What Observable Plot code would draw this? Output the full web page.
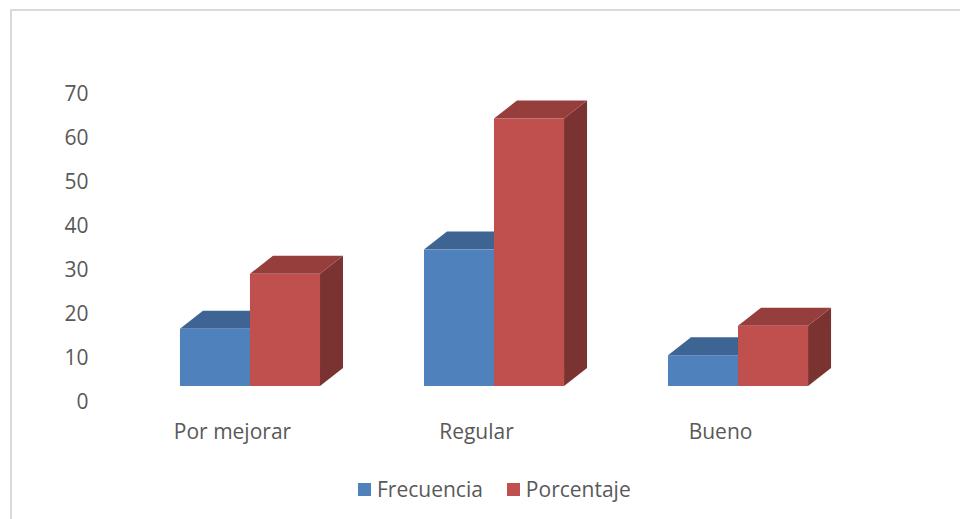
<!DOCTYPE html>
<html>
<head>
<meta charset="utf-8">
<script src="https://cdn.jsdelivr.net/npm/d3@7"></script>
<script src="https://cdn.jsdelivr.net/npm/@observablehq/plot@0.6"></script>
<style>
  body { margin: 0; background: #fff; }
  #wrap { position: relative; width: 960px; height: 519px; overflow: hidden; background: #fff; font-family: "Open Sans", Lato, sans-serif; }
  #frame { position: absolute; left: 10px; top: 9px; width: 960px; height: 520px; border-top: 2px solid #d9d9d9; border-left: 2px solid #d9d9d9; }
  #chart { position: absolute; left: 0; top: 0; }
  #legend { position: absolute; left: 358px; top: 475px; display: flex; align-items: center; font-size: 21px; color: #595959; }
  .item { display: flex; align-items: center; margin-right: 24px; }
  .sw { width: 13px; height: 13px; margin-right: 6px; }
</style>
</head>
<body>
<div id="wrap">
  <div id="frame"></div>
  <div id="chart"></div>
  <div id="legend"></div>
</div>
<script>
const categorias = ["Por mejorar", "Regular", "Bueno"];
const series = ["Frecuencia", "Porcentaje"];
const frecuencia = [13, 31, 7];
const porcentaje = [25.5, 60.8, 13.7];
const yTicks = [0, 10, 20, 30, 40, 50, 60, 70];
const colores = ["#4f81bd", "#c0504d"];

const filas = [];
categorias.forEach((c, i) => {
  filas.push({cat: c, serie: series[0], value: frecuencia[i]});
  filas.push({cat: c, serie: series[1], value: porcentaje[i]});
});

const DEPTH_X = 23, DEPTH_Y = 18;

function bar3d(data, opts) {
  return Plot.barY(data, {
    x: "cat", y: "value", fill: "serie", ...opts,
    render(index, scales, values, dims, context, next) {
      const g = next(index, scales, values, dims, context);
      const rects = Array.from(g.querySelectorAll("rect"));
      for (const r of rects) {
        const x = +r.getAttribute("x"), y = +r.getAttribute("y");
        const w = +r.getAttribute("width"), h = +r.getAttribute("height");
        const fill = r.getAttribute("fill");
        const top = d3.color(fill).darker(0.7).formatHex();
        const side = d3.color(fill).darker(1.25).formatHex();
        const pTop = document.createElementNS("http://www.w3.org/2000/svg", "path");
        pTop.setAttribute("d", `M${x},${y}L${x + w},${y}L${x + w + DEPTH_X},${y - DEPTH_Y}L${x + DEPTH_X},${y - DEPTH_Y}Z`);
        pTop.setAttribute("fill", top);
        const pSide = document.createElementNS("http://www.w3.org/2000/svg", "path");
        pSide.setAttribute("d", `M${x + w},${y}L${x + w + DEPTH_X},${y - DEPTH_Y}L${x + w + DEPTH_X},${y + h - DEPTH_Y}L${x + w},${y + h}Z`);
        pSide.setAttribute("fill", side);
        r.parentNode.insertBefore(pSide, r);
        r.parentNode.insertBefore(pTop, r);
      }
      return g;
    }
  });
}

const chart = Plot.plot({
  width: 960,
  height: 460,
  marginLeft: 76,
  marginRight: 48,
  marginTop: 78,
  marginBottom: 74,
  style: {fontFamily: "'Open Sans', Lato, sans-serif", fontSize: "21px", color: "#595959", background: "transparent", overflow: "visible"},
  x: {domain: categorias, padding: 0.426, round: false, label: null},
  y: {domain: [0, 70], label: null},
  color: {domain: series, range: colores},
  marks: [
    Plot.axisY(yTicks, {tickSize: 0, tickPadding: 0, dx: 12, dy: 16, label: null, fontSize: 21}),
    Plot.axisX({tickSize: 0, tickPadding: 0, dx: -18, dy: 38, label: null, fontSize: 21}),
    bar3d(filas.filter(d => d.serie === series[0]), {insetRight: 70}),
    bar3d(filas.filter(d => d.serie === series[1]), {insetLeft: 70})
  ]
});
document.getElementById("chart").appendChild(chart);

const legend = document.getElementById("legend");
series.forEach((s, i) => {
  const it = document.createElement("div");
  it.className = "item";
  const sw = document.createElement("div");
  sw.className = "sw";
  sw.style.background = colores[i];
  const t = document.createElement("span");
  t.textContent = s;
  it.appendChild(sw);
  it.appendChild(t);
  legend.appendChild(it);
});
</script>
</body>
</html>
